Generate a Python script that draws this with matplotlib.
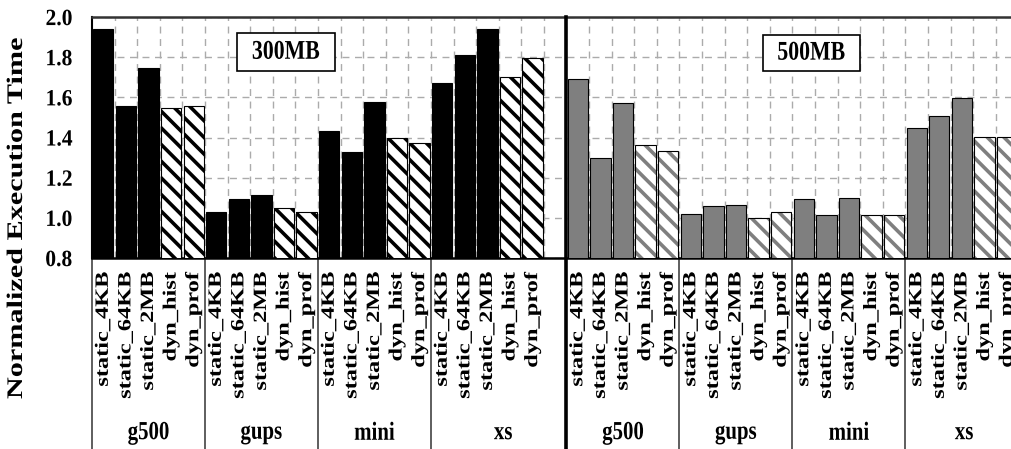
import numpy as np
import matplotlib.pyplot as plt
from matplotlib.patches import Rectangle
from matplotlib.patheffects import AbstractPathEffect
from matplotlib.transforms import Affine2D

# -----------------------------
# DATA
# -----------------------------
benchmarks = ["g500", "gups", "mini", "xs"]
configs = ["static_4KB", "static_64KB", "static_2MB", "dyn_hist", "dyn_prof"]
sizes = ["300MB", "500MB"]

# normalized execution time, one row per benchmark, one column per config
time_300mb = [
    [1.940, 1.558, 1.748, 1.545, 1.557],
    [1.028, 1.092, 1.112, 1.049, 1.029],
    [1.432, 1.329, 1.578, 1.399, 1.371],
    [1.672, 1.811, 1.940, 1.703, 1.795],
]
time_500mb = [
    [1.693, 1.300, 1.570, 1.363, 1.333],
    [1.019, 1.059, 1.065, 0.999, 1.028],
    [1.094, 1.013, 1.099, 1.016, 1.013],
    [1.449, 1.507, 1.598, 1.404, 1.403],
]

yticks = [0.8, 1.0, 1.2, 1.4, 1.6, 1.8, 2.0]

# -----------------------------
# STYLE
# -----------------------------
PANEL_COLORS = ["#000000", "#7f7f7f"]
GRID = dict(color="#ababab", lw=1.0, ls=(0, (5, 4)))
SLOTS = 21  # 20 bars + one spare slot per memory size

plt.rcParams["font.family"] = "Liberation Serif"
plt.rcParams["font.weight"] = "bold"
plt.rcParams["axes.labelweight"] = "bold"
plt.rcParams["hatch.linewidth"] = 2.6


class TallText(AbstractPathEffect):
    """Stretch glyphs vertically on screen around one edge of the text."""

    def __init__(self, factor, anchor="center"):
        super().__init__()
        self.factor = factor
        self.anchor = anchor

    def draw_path(self, renderer, gc, tpath, affine, rgbFace=None):
        box = tpath.get_extents(affine)
        y0 = {"top": box.y1, "bottom": box.y0,
              "center": (box.y0 + box.y1) / 2}[self.anchor]
        stretch = Affine2D().translate(0, -y0).scale(1, self.factor).translate(0, y0)
        renderer.draw_path(gc, tpath, affine + stretch, rgbFace)


# -----------------------------
# FIGURE
# -----------------------------
fig = plt.figure(figsize=(10.12, 4.49), dpi=100)
ax = fig.add_axes([92 / 1012, 191 / 449, 949 / 1012, 241 / 449])

centers, labels = [], []
for p, times in enumerate([time_300mb, time_500mb]):
    color = PANEL_COLORS[p]
    for g, row in enumerate(times):
        x = p * SLOTS + g * 5 + np.arange(len(configs)) + 0.5
        centers.extend(x)
        labels.extend(configs)
        # static page sizes: solid bars
        ax.bar(x[:3], row[:3], width=0.9, color=color,
               edgecolor="black", lw=0.8, zorder=3)
        # dynamic policies: hatched bars
        ax.bar(x[3:], row[3:], width=0.9, color="white", edgecolor=color,
               hatch="\\\\", lw=0, zorder=3)
        ax.bar(x[3:], row[3:], width=0.9, fill=False,
               edgecolor="black", lw=0.8, zorder=4)

ax.set_xlim(0, 2 * SLOTS)
ax.set_ylim(0.8, 2.0)
ax.set_yticks(yticks, [f"{v:.1f}" for v in yticks], fontsize=15.5)
ax.set_xticks(centers, labels, rotation=90, fontsize=13.5)
ax.set_xticks(np.arange(1, 2 * SLOTS), minor=True)
ax.tick_params(axis="x", which="both", length=0, pad=10)
ax.tick_params(axis="y", length=0, pad=14)
ax.grid(True, which="minor", axis="x", **GRID)
ax.grid(True, which="major", axis="y", **GRID)
ax.grid(False, which="major", axis="x")
ax.set_axisbelow(True)

for lab in ax.get_xticklabels():
    lab.set_path_effects([TallText(1.3, "top")])
for lab in ax.get_yticklabels():
    lab.set_path_effects([TallText(1.08)])

ax.spines["top"].set_color("#333333")
ax.spines["top"].set_linewidth(1.8)
ax.spines["bottom"].set_linewidth(1.8)
ax.spines["left"].set_linewidth(1.5)
ax.spines["right"].set_visible(False)

# group separators below the axis and the divider between memory sizes
xaxis_tf = ax.get_xaxis_transform()
for xs in [0, 5, 10, 15, 26, 31, 36]:
    ax.plot([xs, xs], [0, -0.8], transform=xaxis_tf, color="#333333",
            lw=1.1, clip_on=False)
ax.plot([SLOTS, SLOTS], [1, -0.8], transform=xaxis_tf, color="black",
        lw=2.6, clip_on=False, zorder=6)

# benchmark names under each group
group_x = [2.5, 7.5, 12.5, 18.2, 23.5, 28.5, 33.5, 38.6]
for xc, name in zip(group_x, benchmarks * 2):
    t = ax.text(xc, -0.726, name, transform=xaxis_tf, ha="center",
                va="center", fontsize=15)
    t.set_path_effects([TallText(1.25)])

# memory size boxes
for (x0, x1, y0, y1), size in zip([(6.42, 10.75, 1.731, 1.920),
                                   (29.69, 33.98, 1.731, 1.911)], sizes):
    ax.add_patch(Rectangle((x0, y0), x1 - x0, y1 - y0, facecolor="white",
                           edgecolor="black", lw=1.2, zorder=7))
    t = ax.text((x0 + x1) / 2, (y0 + y1) / 2, size, ha="center",
                va="center", fontsize=15.7, zorder=8)
    t.set_path_effects([TallText(1.24)])

ax.set_ylabel("Normalized Execution Time", fontsize=16)
ax.yaxis.set_label_coords(-0.0685, 0.166)
ax.yaxis.label.set_path_effects([TallText(1.36)])

fig.savefig("out.png", dpi=100)
